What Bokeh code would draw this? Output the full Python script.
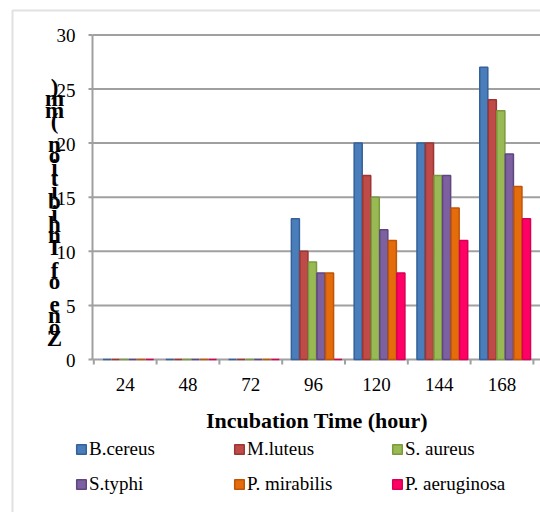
import numpy as np
from bokeh.plotting import figure
from bokeh.models import Range1d, Legend, LegendItem, ColumnDataSource, BoxAnnotation
from bokeh.core.properties import value
from bokeh.embed import file_html
from bokeh.resources import INLINE

hours = ["24", "48", "72", "96", "120", "144", "168"]
species = ["B.cereus", "M.luteus", "S. aureus", "S.typhi", "P. mirabilis", "P. aeruginosa"]
b_cereus = [0, 0, 0, 13, 20, 20, 27]
m_luteus = [0, 0, 0, 10, 17, 20, 24]
s_aureus = [0, 0, 0, 9, 15, 17, 23]
s_typhi = [0, 0, 0, 8, 12, 17, 19]
p_mirabilis = [0, 0, 0, 8, 11, 14, 16]
p_aeruginosa = [0, 0, 0, 0, 8, 11, 13]
series = [b_cereus, m_luteus, s_aureus, s_typhi, p_mirabilis, p_aeruginosa]
y_ticks = [0, 5, 10, 15, 20, 25, 30]
y_title = "Zone of Inhibition (mm)"
x_title = "Incubation Time (hour)"

fills = ["#4A7EBB", "#BE4B48", "#98B954", "#7D60A0", "#E46C0A", "#FF0066"]
edges = ["#35609A", "#9A3633", "#7A9A3E", "#5F4680", "#C05508", "#D80052"]
FONT = "Liberation Serif"
GRID = "#a0a0a0"

# page geometry: the plot area fills the whole canvas; the ranges are set so that
# one category is 62.8 px wide and 1 mm is 10.82 px tall, as in the reference
W, H = 540, 512
PX_X, PX_Y = 62.8, 10.82
X0, Y0 = 93.3, 359.0


def dx(px):
    return (px - X0) / PX_X


def dy(py):
    return (Y0 - py) / PX_Y


p = figure(width=W, height=H,
           x_range=Range1d(dx(0), dx(W)), y_range=Range1d(dy(H), dy(0)),
           x_axis_location=None, y_axis_location=None, min_border=0,
           output_backend="svg", toolbar_location=None)
p.outline_line_color = None
p.background_fill_color = "white"
p.border_fill_color = "white"
p.grid.visible = False

# outer chart border (left and top edges visible in the window)
p.add_layout(BoxAnnotation(left=dx(12), top=dy(10), right=dx(W + 20), bottom=dy(H + 20),
                           fill_alpha=0, line_color="#9a9a9a", line_width=2))

# horizontal gridlines
n_t = len(y_ticks)
p.segment(x0=[dx(92)] * n_t, x1=[dx(W + 5)] * n_t, y0=y_ticks, y1=y_ticks,
          line_color=GRID, line_width=2)

# y axis: line, ticks, labels
p.segment(x0=[dx(92)], x1=[dx(92)], y0=[min(y_ticks)], y1=[max(y_ticks)],
          line_color=GRID, line_width=2)
p.segment(x0=[dx(88)] * n_t, x1=[dx(92)] * n_t, y0=y_ticks, y1=y_ticks,
          line_color=GRID, line_width=2)
p.text(x=[dx(75)] * n_t, y=[t - 0.1 for t in y_ticks], text=[str(t) for t in y_ticks],
       text_align="right", text_baseline="middle", text_font=value(FONT),
       text_font_size="19px", text_color="black")

# bars
centers = np.arange(len(hours)) + 0.55
step = 0.136
items = []
for k, (name, vals) in enumerate(zip(species, series)):
    src = ColumnDataSource(dict(x=centers + (k - 2.5) * step, top=vals))
    r = p.vbar(x="x", top="top", bottom=0, width=0.128, source=src,
               fill_color=fills[k], line_color=edges[k], line_width=1.5)
    items.append(LegendItem(label=name, renderers=[r]))

# x axis: category boundary ticks, labels, title
bounds = list(range(len(hours) + 1))
p.segment(x0=bounds, x1=bounds, y0=[0] * len(bounds), y1=[dy(Y0 + 5)] * len(bounds),
          line_color=GRID, line_width=2)
p.text(x=list(np.arange(len(hours)) + 0.5), y=[dy(384.3)] * len(hours), text=hours,
       text_align="center", text_baseline="middle", text_font=value(FONT),
       text_font_size="19px", text_color="black")
p.text(x=[dx(316.5)], y=[dy(420.4)], text=[x_title],
       text_align="center", text_baseline="middle", text_font=value(FONT),
       text_font_style="bold", text_font_size="22px", text_color="black")

# y title: a stack of upright characters, read from bottom to top
n = len(y_title)
chars, cy = [], []
for i, ch in enumerate(y_title):
    if ch == " ":
        continue
    chars.append(ch)
    cy.append(dy(338 - i * 251 / (n - 1)))
p.text(x=[dx(54)] * len(chars), y=cy, text=chars,
       text_align="center", text_baseline="middle", text_font=value(FONT),
       text_font_style="bold", text_font_size="23px", text_color="black")

# legend: two horizontal rows of three entries (location = bottom-left corner)
for row, vy in ((items[:3], 52), (items[3:], 17)):
    lg = Legend(items=row, orientation="horizontal", location=(75, vy),
                glyph_width=12, glyph_height=12, label_standoff=2,
                label_width=140, label_height=20, spacing=4, padding=0,
                margin=0, border_line_color=None, background_fill_alpha=0,
                label_text_font=FONT, label_text_font_size="19px",
                label_text_color="black")
    p.add_layout(lg)

open("out.html", "w").write(file_html(p, INLINE))
